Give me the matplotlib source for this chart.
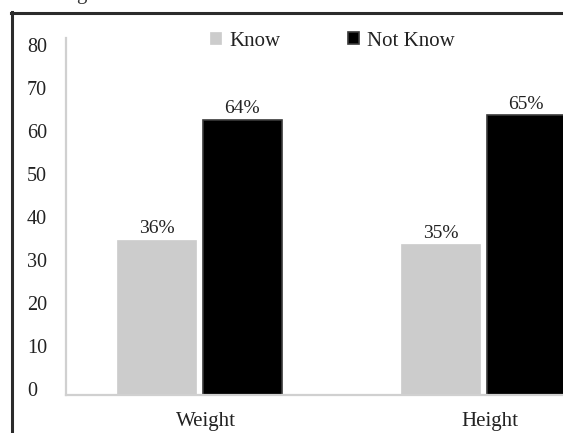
import matplotlib
matplotlib.use("Agg")
import matplotlib.pyplot as plt
import matplotlib.transforms as mtransforms
from matplotlib.lines import Line2D

plt.rcParams["font.family"] = ["Liberation Serif", "DejaVu Serif"]

categories = ["Weight", "Height"]
know = [36, 35]
not_know = [64, 65]
y_ticks = [0, 10, 20, 30, 40, 50, 60, 70, 80]

W, H, DPI = 563, 433, 100
fig = plt.figure(figsize=(W / DPI, H / DPI), dpi=DPI)

# axes extends past the right edge of the canvas (chart is cropped there)
left_px, right_px, top_px, bottom_px = 66, 620, 38, 395
ax = fig.add_axes([left_px / W, (H - bottom_px) / H,
                   (right_px - left_px) / W, (bottom_px - top_px) / H])

x = list(range(len(categories)))
bw = 0.278
off = 0.1505
ax.bar([i - off for i in x], know, width=bw, color="#cccccc",
       edgecolor="#cccccc", linewidth=0.5, label="Know", zorder=2)
ax.bar([i + off for i in x], not_know, width=bw, color="#000000",
       edgecolor="#3a3a3a", linewidth=1.2, label="Not Know", zorder=2)

for i in x:
    ax.annotate(f"{know[i]}%", (i - off, know[i]), xytext=(0, 2),
                textcoords="offset points", ha="center", va="bottom",
                fontsize=14, color="#222222")
    ax.annotate(f"{not_know[i]}%", (i + off, not_know[i]), xytext=(0, 2),
                textcoords="offset points", ha="center", va="bottom",
                fontsize=14, color="#222222")

x0 = 199.5
scale = 284.0
ax.set_xlim((left_px - x0) / scale, (right_px - x0) / scale)
ax.set_ylim(0, 83)

ax.set_yticks(y_ticks)
ax.set_yticklabels([str(v) for v in y_ticks])
ax.set_xticks(x)
ax.set_xticklabels(categories)
ax.tick_params(axis="y", length=0, pad=28, labelsize=14.5, labelcolor="#222222")
ax.tick_params(axis="x", length=0, pad=12, labelsize=15, labelcolor="#222222")
for lab in ax.get_yticklabels():
    lab.set_horizontalalignment("left")

up = mtransforms.ScaledTranslation(0, 6 / DPI, fig.dpi_scale_trans)
for t in ax.yaxis.get_major_ticks():
    t.label1.set_transform(t.label1.get_transform() + up)
right = mtransforms.ScaledTranslation(6 / DPI, 0, fig.dpi_scale_trans)
for t in ax.xaxis.get_major_ticks():
    t.label1.set_transform(t.label1.get_transform() + right)

for s in ("top", "right"):
    ax.spines[s].set_visible(False)
for s in ("left", "bottom"):
    ax.spines[s].set_color("#d0d0d0")
    ax.spines[s].set_linewidth(1.6)

leg = fig.legend(loc="center left", bbox_to_anchor=(210 / W, 1 - 41 / H),
                 ncol=2, frameon=False, fontsize=15, handlelength=0.55,
                 handleheight=0.55, handletextpad=0.4, columnspacing=3.2,
                 borderpad=0, borderaxespad=0)
for txt in leg.get_texts():
    txt.set_color("#222222")

# outer frame of the chart area
fig.add_artist(Line2D([11.5 / W, 11.5 / W], [0, 1 - 12 / H],
                      transform=fig.transFigure, color="#2b2b2b", lw=2.2))
fig.add_artist(Line2D([10.5 / W, 1], [1 - 13.2 / H, 1 - 13.2 / H],
                      transform=fig.transFigure, color="#2b2b2b", lw=2.2))

# lower part of the caption line above the frame
fig.text(76 / W, 1 + 1.5 / H, "g", fontsize=15, color="#333333",
         ha="left", va="baseline")

fig.savefig("out.png", dpi=DPI)
